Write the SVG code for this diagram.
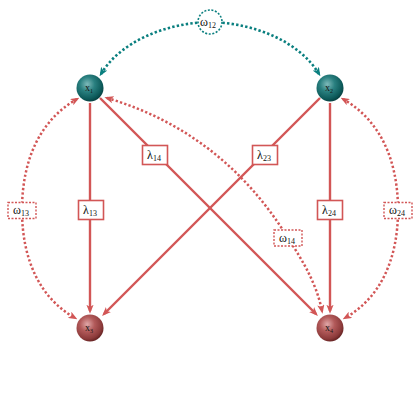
<svg xmlns="http://www.w3.org/2000/svg" width="420" height="420" viewBox="0 0 420 420">
<defs>
<radialGradient id="gt" cx="0.4" cy="0.36" r="0.68">
<stop offset="0" stop-color="#7fbaba"/>
<stop offset="0.4" stop-color="#2a8080"/>
<stop offset="0.8" stop-color="#0d5a5a"/>
<stop offset="1" stop-color="#053c3c"/>
</radialGradient>
<radialGradient id="gr" cx="0.4" cy="0.36" r="0.68">
<stop offset="0" stop-color="#e0a8a8"/>
<stop offset="0.4" stop-color="#b25a5a"/>
<stop offset="0.8" stop-color="#8c3a3a"/>
<stop offset="1" stop-color="#5e1e1e"/>
</radialGradient>
<marker id="ar" viewBox="0 0 10 8" markerUnits="userSpaceOnUse" markerWidth="9" markerHeight="7.2" refX="7" refY="4" orient="auto-start-reverse">
<path d="M0,0 L10,4 L0,8 L2.5,4 z" fill="#d25656"/>
</marker>
<marker id="at" viewBox="0 0 10 8" markerUnits="userSpaceOnUse" markerWidth="9" markerHeight="7.2" refX="7" refY="4" orient="auto-start-reverse">
<path d="M0,0 L10,4 L0,8 L2.5,4 z" fill="#0a7f7f"/>
</marker>
<style>
.s{fill:none;stroke:#d25656;stroke-width:2.4}
.d{fill:none;stroke:#d25656;stroke-width:2.5;stroke-dasharray:2.3 2.2}
.dt{fill:none;stroke:#0a7f7f;stroke-width:2.6;stroke-dasharray:2.4 2.2}
.lb{fill:#fff;stroke:#d25656;stroke-width:1.6}
.wb{fill:#fff;stroke:#d25656;stroke-width:1.4;stroke-dasharray:2 1.5}
.wc{fill:#fff;stroke:#0a7f7f;stroke-width:1.6;stroke-dasharray:2 1.6}
.t{font-family:"Liberation Serif","DejaVu Serif",serif;fill:#111;text-anchor:middle}
.big{font-size:12px}
.sub{font-size:8px}
.nt{font-family:"Liberation Serif","DejaVu Serif",serif;font-size:10px;fill:#151515;text-anchor:middle}
</style>
</defs>
<g id="connectors">
<path class="dt" d="M101,74 C120,42 165,23 210,22 C255,23 300,42 319,74" marker-start="url(#at)" marker-end="url(#at)"/>
<path class="s" d="M90,103 L90,311" marker-end="url(#ar)"/>
<path class="s" d="M330,103 L330,311" marker-end="url(#ar)"/>
<path class="s" d="M100,98 L316,314" marker-end="url(#ar)"/>
<path class="s" d="M320,98 L104,314" marker-end="url(#ar)"/>
<path class="d" d="M77,99 C40,120 22,160 22,210 C22,260 40,298 75,318" marker-start="url(#ar)" marker-end="url(#ar)"/>
<path class="d" d="M343,99 C380,120 398,160 398,210 C398,260 380,298 345,318" marker-start="url(#ar)" marker-end="url(#ar)"/>
<path class="d" d="M107,98 Q222.5,132 288,238 C298,254 316,280 322,311" marker-start="url(#ar)" marker-end="url(#ar)"/>
</g>
<g id="w12">
<circle class="wc" cx="210" cy="22" r="12"/>
<text class="t big" x="208" y="26">ω<tspan class="sub" dy="2">12</tspan></text>
</g>
<g id="l13">
<rect class="lb" x="78.5" y="200.5" width="25" height="19"/>
<text class="t big" x="90" y="214">λ<tspan class="sub" dy="2">13</tspan></text>
</g>
<g id="l24">
<rect class="lb" x="317.5" y="200.5" width="25" height="19"/>
<text class="t big" x="329" y="214">λ<tspan class="sub" dy="2">24</tspan></text>
</g>
<g id="l14">
<rect class="lb" x="142.5" y="145.5" width="25" height="19"/>
<text class="t big" x="154" y="159">λ<tspan class="sub" dy="2">14</tspan></text>
</g>
<g id="l23">
<rect class="lb" x="252.5" y="145.5" width="25" height="19"/>
<text class="t big" x="264" y="159">λ<tspan class="sub" dy="2">23</tspan></text>
</g>
<g id="w13">
<rect class="wb" x="8" y="202.5" width="28" height="16"/>
<text class="t big" x="21" y="214">ω<tspan class="sub" dy="2">13</tspan></text>
</g>
<g id="w24">
<rect class="wb" x="384" y="202.5" width="28" height="16"/>
<text class="t big" x="397" y="214">ω<tspan class="sub" dy="2">24</tspan></text>
</g>
<g id="w14">
<rect class="wb" x="274" y="230" width="28" height="16"/>
<text class="t big" x="287" y="241.5">ω<tspan class="sub" dy="2">14</tspan></text>
</g>
<g id="x1">
<circle cx="90" cy="88" r="13.5" fill="url(#gt)"/>
<text class="nt" x="89" y="91">x<tspan font-size="6" dy="1.5">1</tspan></text>
</g>
<g id="x2">
<circle cx="330" cy="88" r="13.5" fill="url(#gt)"/>
<text class="nt" x="329" y="91">x<tspan font-size="6" dy="1.5">2</tspan></text>
</g>
<g id="x3">
<circle cx="90" cy="328" r="13.5" fill="url(#gr)"/>
<text class="nt" x="89" y="331">x<tspan font-size="6" dy="1.5">3</tspan></text>
</g>
<g id="x4">
<circle cx="330" cy="328" r="13.5" fill="url(#gr)"/>
<text class="nt" x="329" y="331">x<tspan font-size="6" dy="1.5">4</tspan></text>
</g>
</svg>
